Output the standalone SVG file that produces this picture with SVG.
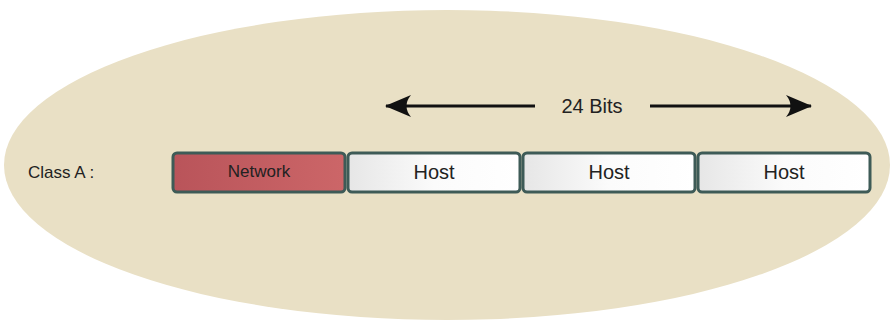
<svg xmlns="http://www.w3.org/2000/svg" width="891" height="322" viewBox="0 0 891 322">
<defs>
<linearGradient id="hostGrad" x1="0" y1="0" x2="1" y2="0">
<stop offset="0" stop-color="#e6e6e6"/>
<stop offset="0.5" stop-color="#fbfbfb"/>
<stop offset="1" stop-color="#ffffff"/>
</linearGradient>
<linearGradient id="netGrad" x1="0" y1="0" x2="1" y2="0">
<stop offset="0" stop-color="#b9545a"/>
<stop offset="1" stop-color="#cc6668"/>
</linearGradient>
<marker id="arr" viewBox="0 0 26 22" refX="25" refY="11" markerWidth="26" markerHeight="22" markerUnits="userSpaceOnUse" orient="auto-start-reverse">
<path d="M0,0 L26,11 L0,22 Q9,11 0,0 Z" fill="#111"/>
</marker>
</defs>
<style>
.box{stroke:#3e5b57;stroke-width:3}
.lbl{font-family:"Liberation Sans",Arial,sans-serif;font-size:20px;fill:#222;text-anchor:middle}
.conn{stroke:#111;stroke-width:3;fill:none}
</style>
<rect width="891" height="322" fill="#ffffff"/>
<ellipse cx="447" cy="165" rx="443" ry="155" fill="#e9e0c5"/>
<text x="28" y="178" font-family="Liberation Sans, Arial, sans-serif" font-size="17" fill="#222">Class A :</text>
<g id="network">
<rect class="box" x="173" y="153" width="172" height="39" rx="4" fill="url(#netGrad)"/>
<text class="lbl" x="259" y="177" style="font-size:17px">Network</text>
</g>
<g id="host1">
<rect class="box" x="348" y="153" width="172" height="39" rx="4" fill="url(#hostGrad)"/>
<text class="lbl" x="434" y="179">Host</text>
</g>
<g id="host2">
<rect class="box" x="523" y="153" width="172" height="39" rx="4" fill="url(#hostGrad)"/>
<text class="lbl" x="609" y="179">Host</text>
</g>
<g id="host3">
<rect class="box" x="698" y="153" width="172" height="39" rx="4" fill="url(#hostGrad)"/>
<text class="lbl" x="784" y="179">Host</text>
</g>
<g id="connectors">
<line class="conn" x1="535" y1="106" x2="386" y2="106" marker-end="url(#arr)"/>
<line class="conn" x1="650" y1="106" x2="811" y2="106" marker-end="url(#arr)"/>
</g>
<text class="lbl" x="592" y="113">24 Bits</text>
</svg>
